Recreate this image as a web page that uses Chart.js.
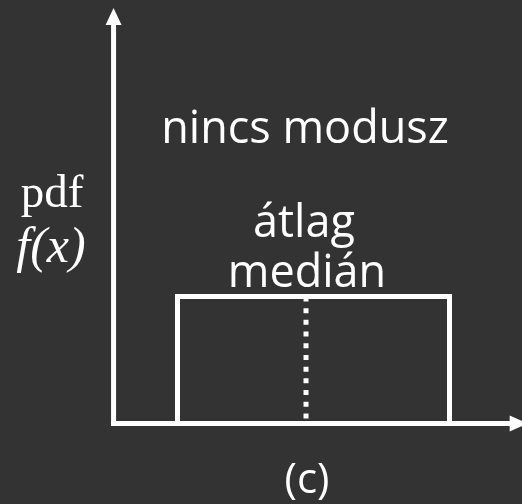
<!DOCTYPE html>
<html lang="hu">
<head>
  <meta charset="UTF-8" />
  <title>Egyenletes eloszlás - nincs modusz</title>
  <script src="https://cdn.jsdelivr.net/npm/chart.js"></script>
  <style>
    html, body { margin: 0; padding: 0; background: #333333; }
    #wrap { width: 522px; height: 504px; }
  </style>
</head>
<body>
  <div id="wrap"><canvas id="pdfChart" width="522" height="504"></canvas></div>

  <script>
    // uniform pdf: f(x) = 1/(b-a) on [a, b]
    const boxX = [0, 0, 2, 2];
    const boxY = [0, 0.5, 0.5, 0];

    // mean = median marker
    const midX = [0.945, 0.945];
    const midY = [0.5, 0];

    // axes
    const xAxisX = [-0.489, 2.45];
    const xAxisY = [0, 0];
    const yAxisX = [-0.47, -0.47];
    const yAxisY = [0, 1.573];

    const titleText = 'nincs modusz';
    const midLabels = ['átlag', 'medián'];
    const yLabels = ['pdf', 'f(x)'];
    const caption = '(c)';

    const pts = (xs, ys) => xs.map((x, i) => ({ x: x, y: ys[i] }));

    const white = '#ffffff';

    const overlay = {
      id: 'overlay',
      afterDatasetsDraw(chart) {
        const ctx = chart.ctx;
        const sx = chart.scales.x, sy = chart.scales.y;
        ctx.save();
        ctx.fillStyle = white;

        // arrow heads
        const ax = sx.getPixelForValue(yAxisX[1]);
        const top = sy.getPixelForValue(yAxisY[1]);
        ctx.beginPath();
        ctx.moveTo(ax, top - 16);
        ctx.lineTo(ax - 8, top + 1);
        ctx.lineTo(ax + 8, top + 1);
        ctx.closePath();
        ctx.fill();

        const ay = sy.getPixelForValue(0);
        const right = sx.getPixelForValue(xAxisX[1]);
        ctx.beginPath();
        ctx.moveTo(right + 17, ay);
        ctx.lineTo(right - 1, ay - 8);
        ctx.lineTo(right - 1, ay + 8);
        ctx.closePath();
        ctx.fill();

        // texts
        ctx.textAlign = 'center';
        ctx.textBaseline = 'alphabetic';
        ctx.font = '45px "Open Sans"';
        ctx.fillText(titleText, 305, 143);
        ctx.fillText(midLabels[0], 304, 237);
        ctx.fillText(midLabels[1], 307, 287);
        ctx.font = '42px "Open Sans"';
        ctx.fillText(caption, 307, 493);

        ctx.font = '47px "Liberation Serif"';
        ctx.fillText(yLabels[0], 52, 207);
        ctx.font = 'italic 50px "Liberation Serif"';
        ctx.fillText(yLabels[1], 51, 262);
        ctx.restore();
      }
    };

    const lineStyle = {
      borderColor: white,
      borderWidth: 5,
      pointRadius: 0,
      tension: 0,
      fill: false,
      borderCapStyle: 'square',
      borderJoinStyle: 'miter',
      clip: false
    };

    new Chart(document.getElementById('pdfChart'), {
      type: 'line',
      data: {
        datasets: [
          Object.assign({ label: 'x tengely', data: pts(xAxisX, xAxisY) }, lineStyle, { borderCapStyle: 'butt' }),
          Object.assign({ label: 'y tengely', data: pts(yAxisX, yAxisY) }, lineStyle),
          Object.assign({ label: 'f(x)', data: pts(boxX, boxY) }, lineStyle, { borderCapStyle: 'butt' }),
          Object.assign({ label: 'átlag / medián', data: pts(midX, midY) }, lineStyle, { borderCapStyle: 'butt', borderDash: [5, 6.7] })
        ]
      },
      options: {
        responsive: false,
        animation: false,
        layout: { padding: 0 },
        plugins: { legend: { display: false }, tooltip: { enabled: false } },
        scales: {
          x: { type: 'linear', min: -1.305, max: 2.533, display: false },
          y: { type: 'linear', min: -0.317, max: 1.667, display: false }
        }
      },
      plugins: [overlay]
    });
  </script>
</body>
</html>
